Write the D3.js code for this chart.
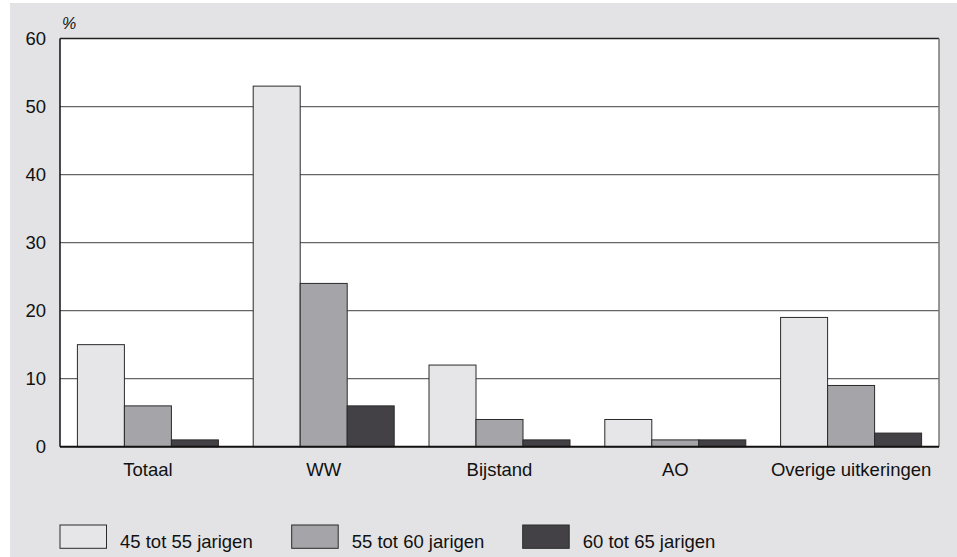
<!DOCTYPE html>
<html>
<head>
<meta charset="utf-8">
<script src="https://cdn.jsdelivr.net/npm/d3@7"></script>
<style>
  body { margin: 0; background: #fff; }
  text { font-family: "Liberation Sans", Arial, sans-serif; fill: #111; }
</style>
</head>
<body>
<svg id="chart" width="957" height="557"></svg>
<script>
var categories = ['Totaal', 'WW', 'Bijstand', 'AO', 'Overige uitkeringen'];
var seriesNames = ['45 tot 55 jarigen', '55 tot 60 jarigen', '60 tot 65 jarigen'];
var age45to55 = [15, 53, 12, 4, 19];
var age55to60 = [6, 24, 4, 1, 9];
var age60to65 = [1, 6, 1, 1, 2];
var yTicks = [0, 10, 20, 30, 40, 50, 60];
var seriesColors = ['#e6e6e8', '#a5a4a8', '#434145'];

var series = [age45to55, age55to60, age60to65];

var svg = d3.select('#chart');

// grey panel behind everything
svg.append('rect')
    .attr('x', 10).attr('y', 3)
    .attr('width', 947).attr('height', 554)
    .attr('fill', '#e3e3e5');

var plotLeft = 60, plotRight = 939, plotTop = 38.5, plotBottom = 446.7;

var x0 = d3.scaleBand()
    .domain(categories)
    .range([plotLeft, plotRight])
    .paddingInner(0)
    .paddingOuter(0);

var x1 = d3.scaleBand()
    .domain(d3.range(series.length))
    .range([17.4, x0.bandwidth() - 17.4]);

var y = d3.scaleLinear()
    .domain([0, 60])
    .range([plotBottom, plotTop]);

svg.append('rect')
    .attr('x', plotLeft).attr('y', plotTop)
    .attr('width', plotRight - plotLeft).attr('height', plotBottom - plotTop)
    .attr('fill', '#fff');

// gridlines
svg.append('g')
    .selectAll('line')
    .data(yTicks.filter(function(d) { return d > 0 && d < 60; }))
    .enter().append('line')
    .attr('x1', plotLeft).attr('x2', plotRight)
    .attr('y1', function(d) { return y(d); })
    .attr('y2', function(d) { return y(d); })
    .attr('stroke', '#666')
    .attr('stroke-width', 1.2);

// bars
var groups = svg.append('g')
    .selectAll('g')
    .data(categories)
    .enter().append('g')
    .attr('transform', function(d) { return 'translate(' + x0(d) + ',0)'; });

groups.selectAll('rect')
    .data(function(d, i) {
        return series.map(function(s, j) { return {k: j, v: s[i]}; });
    })
    .enter().append('rect')
    .attr('x', function(d) { return x1(d.k); })
    .attr('width', x1.bandwidth())
    .attr('y', function(d) { return y(d.v); })
    .attr('height', function(d) { return y(0) - y(d.v); })
    .attr('fill', function(d) { return seriesColors[d.k]; })
    .attr('stroke', '#2a2a2a')
    .attr('stroke-width', 1);

// frame: top and left black, right grey
svg.append('line')
    .attr('x1', plotLeft).attr('x2', plotRight)
    .attr('y1', plotTop).attr('y2', plotTop)
    .attr('stroke', '#222').attr('stroke-width', 1.5);
svg.append('line')
    .attr('x1', plotRight).attr('x2', plotRight)
    .attr('y1', plotTop).attr('y2', plotBottom)
    .attr('stroke', '#777').attr('stroke-width', 1.5);
svg.append('line')
    .attr('x1', plotLeft).attr('x2', plotLeft)
    .attr('y1', plotTop).attr('y2', plotBottom)
    .attr('stroke', '#111').attr('stroke-width', 1.5);
svg.append('line')
    .attr('x1', plotLeft).attr('x2', plotRight)
    .attr('y1', plotBottom).attr('y2', plotBottom)
    .attr('stroke', '#111').attr('stroke-width', 2);

// y axis labels
var yAxis = d3.axisLeft(y).tickValues(yTicks).tickSize(0).tickPadding(14);
var yg = svg.append('g')
    .attr('transform', 'translate(' + plotLeft + ',0)')
    .call(yAxis);
yg.select('.domain').remove();
yg.selectAll('text')
    .style('font-size', '18.5px')
    .attr('fill', '#111');

svg.append('text')
    .attr('x', 62).attr('y', 29)
    .style('font-size', '16px')
    .style('font-style', 'italic')
    .text('%');

// x axis labels
var xAxis = d3.axisBottom(x0).tickSize(0).tickPadding(16);
var xg = svg.append('g')
    .attr('transform', 'translate(0,' + plotBottom + ')')
    .call(xAxis);
xg.select('.domain').remove();
xg.selectAll('text')
    .style('font-size', '18.5px')
    .attr('fill', '#111');

// legend
var legendX = [60, 291.7, 522.7];
var legend = svg.append('g')
    .selectAll('g')
    .data(seriesNames)
    .enter().append('g')
    .attr('transform', function(d, i) { return 'translate(' + legendX[i] + ',525)'; });

legend.append('rect')
    .attr('width', 46.5).attr('height', 23.3)
    .attr('fill', function(d, i) { return seriesColors[i]; })
    .attr('stroke', '#2a2a2a')
    .attr('stroke-width', 1);

legend.append('text')
    .attr('x', 60).attr('y', 23.3)
    .style('font-size', '18.5px')
    .text(function(d) { return d; });
</script>
</body>
</html>
